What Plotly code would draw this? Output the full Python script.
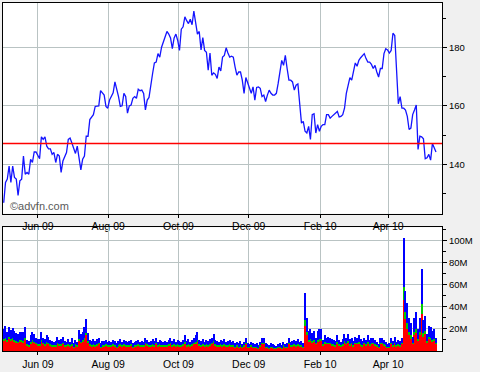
import plotly.graph_objects as go
import pandas as pd

# ---- price series, May 2009 - May 2010 ----
price = [126.8,133.8,134.9,139.4,133.8,139.4,135.5,134.9,129.3,134.3,
134.9,142.8,136.6,137.2,136.6,141.7,140.6,144.2,144.2,142.8,
141.9,149.4,148.5,149.4,146.2,145.3,145.3,143.4,144.0,140.6,
143.4,142.8,137.2,141.1,142.6,144.0,148.5,149.0,147.3,145.7,
143.7,146.2,142.8,138.1,141.7,142.8,149.6,149.6,155.3,156.4,
157.0,159.8,159.8,160.0,165.2,164.5,163.7,159.8,159.2,162.0,
163.2,164.5,168.2,
166.0,163.2,159.8,160.0,164.3,163.2,157.5,160.0,160.3,162.6,
163.2,162.6,165.7,165.2,165.4,164.3,158.6,162.0,162.9,167.7,
171.1,174.7,175.0,177.9,176.7,180.1,181.8,183.3,185.5,184.6,
183.3,179.6,183.3,184.6,182.4,179.0,186.3,187.1,190.5,189.2,
188.2,189.7,187.8,192.5,187.5,184.6,185.5,179.2,183.4,179.0,
178.4,172.2,178.1,170.5,171.3,170.8,169.4,173.3,172.0,176.7,
177.3,179.9,178.1,176.7,177.0,176.7,173.3,170.5,171.6,
171.6,168.8,164.3,169.7,167.7,166.0,164.3,166.5,162.0,166.3,
166.5,166.0,163.2,163.7,161.5,163.7,165.4,164.3,163.7,163.7,
164.3,167.7,172.2,175.6,173.9,177.3,172.8,168.8,168.8,168.2,
165.4,167.1,167.5,160.9,154.1,154.7,151.3,150.7,153.0,148.5,
157.0,157.3,150.7,153.6,151.3,153.0,153.6,153.6,157.0,157.0,
155.8,156.4,157.0,157.5,158.1,156.2,156.4,157.0,159.2,164.3,
167.1,169.7,168.8,172.2,174.7,173.6,175.6,176.5,177.3,177.9,
176.2,175.0,175.0,174.2,172.8,173.9,171.6,169.9,172.8,172.8,
177.9,179.6,179.2,178.1,179.0,184.9,184.1,173.3,160.7,163.2,
159.2,159.2,158.6,156.4,151.9,152.4,157.0,158.6,160.3,145.1,
149.6,149.4,148.7,141.9,142.2,143.4,141.4,147.1,145.7,144.2]

ref_level = 147.1

# ---- volume (millions), stacked red / green / blue ----
vol_red = [9,10,8,11,9,10,8,7,7,8,
8,7,10,5,4,6,8,7,6,5,
5,8,6,5,6,6,5,4,4,4,
6,5,5,6,4,4,5,4,5,3,
5,4,9,7,8,10,14,7,5,4,
5,4,5,6,3,4,4,5,4,4,
4,5,4,3,4,5,4,5,4,4,
4,5,3,4,4,5,4,4,4,6,
5,4,4,5,4,6,4,5,4,4,
4,4,5,6,4,5,4,5,4,4,
5,6,4,5,4,5,6,6,8,5,
4,5,4,5,4,5,6,7,5,4,
4,5,4,5,4,4,5,4,4,3,
4,3,4,3,4,6,3,3,4,3,
3,3,2,4,6,6,3,3,2,3,
3,2,2,3,3,2,4,3,3,6,
4,4,5,4,5,4,4,3,23,14,
8,9,7,8,6,8,9,9,5,6,
6,6,6,5,5,4,6,5,4,5,
7,6,7,5,6,4,6,6,6,5,
4,6,5,6,5,6,6,5,4,3,
6,6,5,4,3,3,6,4,6,4,
5,4,6,46,29,20,14,11,6,14,
16,9,14,33,13,15,7,11,10,8,9,6]

vol_green = [2,2,2,2,2,2,2,2,1,2,
2,2,2,1,1,2,2,1,1,1,
1,2,1,1,2,1,1,1,1,1,
1,1,1,1,1,1,1,1,1,1,
1,1,2,1,2,2,2,2,1,1,
1,1,1,1,1,1,1,1,1,1,
1,1,1,1,1,1,1,1,1,1,
1,1,1,1,1,1,1,1,1,1,
1,1,1,1,1,1,1,1,1,1,
1,1,1,1,1,1,1,1,1,1,
1,2,1,1,1,1,1,2,2,1,
1,1,1,1,1,1,1,2,1,1,
1,1,1,1,1,1,1,1,1,1,
1,1,1,1,1,1,1,1,1,1,
1,1,1,1,1,1,1,1,1,1,
1,1,1,1,1,1,1,1,1,1,
1,1,1,1,1,1,1,1,5,3,
2,2,2,2,1,2,2,2,1,2,
1,1,1,1,1,1,2,1,1,1,
2,1,2,1,1,1,1,1,2,1,
1,1,1,2,1,1,1,1,1,1,
1,1,1,1,1,1,1,1,1,1,
1,1,1,12,6,5,3,3,1,3,
4,2,3,9,3,3,2,2,2,2,2,1]

vol_blue = [9,11,7,9,8,9,8,7,7,7,
7,8,10,4,4,6,7,7,5,5,
5,7,5,5,6,6,4,4,3,4,
6,4,5,6,4,3,5,3,6,3,
4,3,8,7,7,10,13,7,4,4,
5,4,5,5,3,4,4,4,3,4,
3,4,4,3,4,5,3,4,4,3,
4,4,3,3,4,4,3,4,3,5,
4,3,4,5,4,5,3,4,4,3,
4,3,4,5,4,5,3,4,4,3,
4,6,4,5,3,4,5,6,7,4,
4,5,3,4,4,5,5,6,4,4,
3,4,4,5,3,4,4,3,4,3,
3,3,4,2,3,5,3,2,3,3,
2,3,2,3,5,5,3,2,2,3,
2,2,1,2,3,2,3,2,3,5,
3,4,4,4,5,3,4,3,24,13,
8,9,7,8,5,8,9,9,4,6,
5,6,5,5,4,4,6,4,3,5,
6,5,6,5,5,4,6,5,6,5,
4,5,4,6,4,5,5,4,3,2,
5,5,4,3,2,3,5,4,6,3,
4,4,5,44,19,18,13,11,6,13,
15,9,13,32,12,14,6,10,10,8,9,5]

vol_ticks = [20, 40, 60, 80, 100]
vol_ticklabels = ["20M", "40M", "60M", "80M", "100M"]

start, end = "2009-05-02 08:00", "2010-05-12 14:00"
dates = pd.date_range(start, end, periods=len(price))
vdates = pd.date_range(start, end, periods=len(vol_red))

FONT = "Liberation Sans, Arial, sans-serif"
GRID = "#b9c3c3"

fig = go.Figure()
fig.add_trace(go.Scatter(x=dates, y=price, mode="lines",
                         line=dict(color="#1414ff", width=1.3),
                         xaxis="x", yaxis="y", hoverinfo="skip"))
for arr, col in [(vol_red, "#ff0000"), (vol_green, "#00cc00"), (vol_blue, "#0000ff")]:
    fig.add_trace(go.Bar(x=vdates, y=arr, marker=dict(color=col, line=dict(width=0)),
                         xaxis="x2", yaxis="y2", hoverinfo="skip"))

xcommon = dict(type="date", range=["2009-05-01 17:00", "2010-05-17 19:00"],
               dtick="M2", tick0="2009-06-01", tickformat="%b %y",
               ticks="outside", ticklen=3, tickcolor="black",
               showgrid=True, gridcolor=GRID, gridwidth=1,
               showline=True, linecolor="black", linewidth=1, mirror=True,
               tickfont=dict(family=FONT, size=10.5, color="black"),
               zeroline=False)

fig.update_layout(
    width=480, height=372,
    margin=dict(l=2, r=38, t=2, b=18),
    paper_bgcolor="#f0f0f0", plot_bgcolor="white",
    showlegend=False, barmode="stack", bargap=0.35,
    xaxis=dict(domain=[0, 1], anchor="y", **xcommon),
    xaxis2=dict(domain=[0, 1], anchor="y2", matches="x", **xcommon),
    yaxis=dict(domain=[0.3949, 1], anchor="x", side="right",
               range=[123.1, 195.25], dtick=20, tick0=0,
               ticks="outside", ticklen=4, tickcolor="black",
               minor=dict(dtick=10, ticks="outside", ticklen=3, tickcolor="black", showgrid=False),
               showgrid=True, gridcolor=GRID, zeroline=False,
               showline=True, linecolor="black", linewidth=1, mirror=True,
               tickfont=dict(family=FONT, size=9.5, color="black")),
    yaxis2=dict(domain=[0, 0.3551], anchor="x2", side="right",
                range=[0, 111.5], tickvals=vol_ticks, ticktext=vol_ticklabels,
                ticks="outside", ticklen=4, tickcolor="black",
                minor=dict(tickvals=[10, 30, 50, 70, 90, 110], ticks="outside", ticklen=3,
                           tickcolor="black", showgrid=False),
                showgrid=True, gridcolor=GRID, zeroline=False,
                showline=True, linecolor="black", linewidth=1, mirror=True,
                tickfont=dict(family=FONT, size=9.5, color="black")),
    shapes=[dict(type="line", xref="x domain", x0=0, x1=1, yref="y",
                 y0=ref_level, y1=ref_level, line=dict(color="#ff0000", width=1.6))],
    annotations=[dict(text="©advfn.com", xref="x domain", yref="y domain",
                      x=0.011, y=0.038, xanchor="left", yanchor="middle",
                      showarrow=False, font=dict(family=FONT, size=11, color="#5a5a5a"))],
)

fig.write_html("out.html", config={"displayModeBar": False})
